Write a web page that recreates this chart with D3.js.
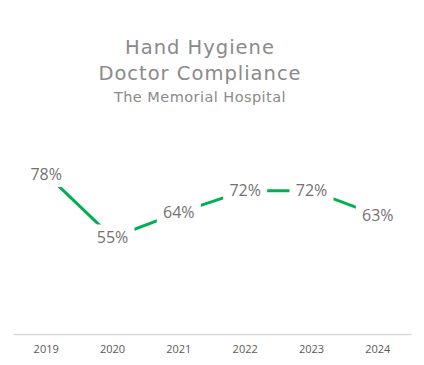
<!DOCTYPE html>
<html>
<head>
<meta charset="utf-8">
<script src="https://cdn.jsdelivr.net/npm/d3@7"></script>
<style>
body { margin: 0; background: #fff; }
</style>
</head>
<body>
<div id="chart"></div>
<script>
var width = 424,
    height = 365;

var years = ["2019", "2020", "2021", "2022", "2023", "2024"];
var compliance = [0.78, 0.55, 0.64, 0.72, 0.72, 0.63];
var titleLines = ["Hand Hygiene", "Doctor Compliance"];
var subtitle = "The Memorial Hospital";

var margin = {left: 13, right: 13, top: 141, bottom: 31};
var titleX = 200;

var svg = d3.select("#chart").append("svg")
    .attr("width", width)
    .attr("height", height);

var xScale = d3.scaleBand()
    .domain(years)
    .range([margin.left, width - margin.right]);

var yScale = d3.scaleLinear()
    .domain([0.2, 0.9])
    .range([height - margin.bottom, margin.top]);

// title
svg.selectAll("text.title").data(titleLines).enter().append("text")
    .attr("class", "title")
    .attr("x", titleX)
    .attr("y", (d, i) => 54 + i * 26)
    .attr("text-anchor", "middle")
    .style("font-family", "'DejaVu Sans', sans-serif")
    .style("font-size", "19.5px")
    .style("letter-spacing", "1px")
    .attr("fill", "#8a8a8a")
    .text(d => d);

svg.append("text")
    .attr("x", titleX)
    .attr("y", 102)
    .attr("text-anchor", "middle")
    .style("font-family", "'DejaVu Sans', sans-serif")
    .style("font-size", "14.5px")
    .style("letter-spacing", "0.45px")
    .attr("fill", "#8a8a8a")
    .text(subtitle);

// axis
var xAxis = d3.axisBottom(xScale).tickSize(0).tickPadding(11);
var gx = svg.append("g")
    .attr("transform", "translate(0," + (height - margin.bottom) + ")")
    .call(xAxis);
gx.select(".domain").attr("stroke", "#d9d9d9").attr("stroke-width", 1.3);
gx.selectAll("text")
    .style("font-family", "'Open Sans', 'Liberation Sans', sans-serif")
    .style("font-size", "11px")
    .attr("fill", "#595959");

// line
var line = d3.line()
    .x((d, i) => xScale(years[i]) + xScale.bandwidth() / 2)
    .y(d => yScale(d));

svg.append("path")
    .datum(compliance)
    .attr("fill", "none")
    .attr("stroke", "#00b050")
    .attr("stroke-width", 3)
    .attr("d", line);

// labels with white boxes
var labels = svg.selectAll("g.lbl").data(compliance).enter().append("g")
    .attr("class", "lbl")
    .attr("transform", (d, i) => "translate(" + (xScale(years[i]) + xScale.bandwidth() / 2) + "," + yScale(d) + ")");

labels.append("rect")
    .attr("x", -22)
    .attr("y", -13)
    .attr("width", 44)
    .attr("height", 26)
    .attr("fill", "#fff");

labels.append("text")
    .attr("text-anchor", "middle")
    .attr("dy", "0.36em")
    .style("font-family", "'Open Sans', 'Liberation Sans', sans-serif")
    .style("font-size", "16px")
    .attr("fill", "#767171")
    .text(d => Math.round(d * 100) + "%");
</script>
</body>
</html>
